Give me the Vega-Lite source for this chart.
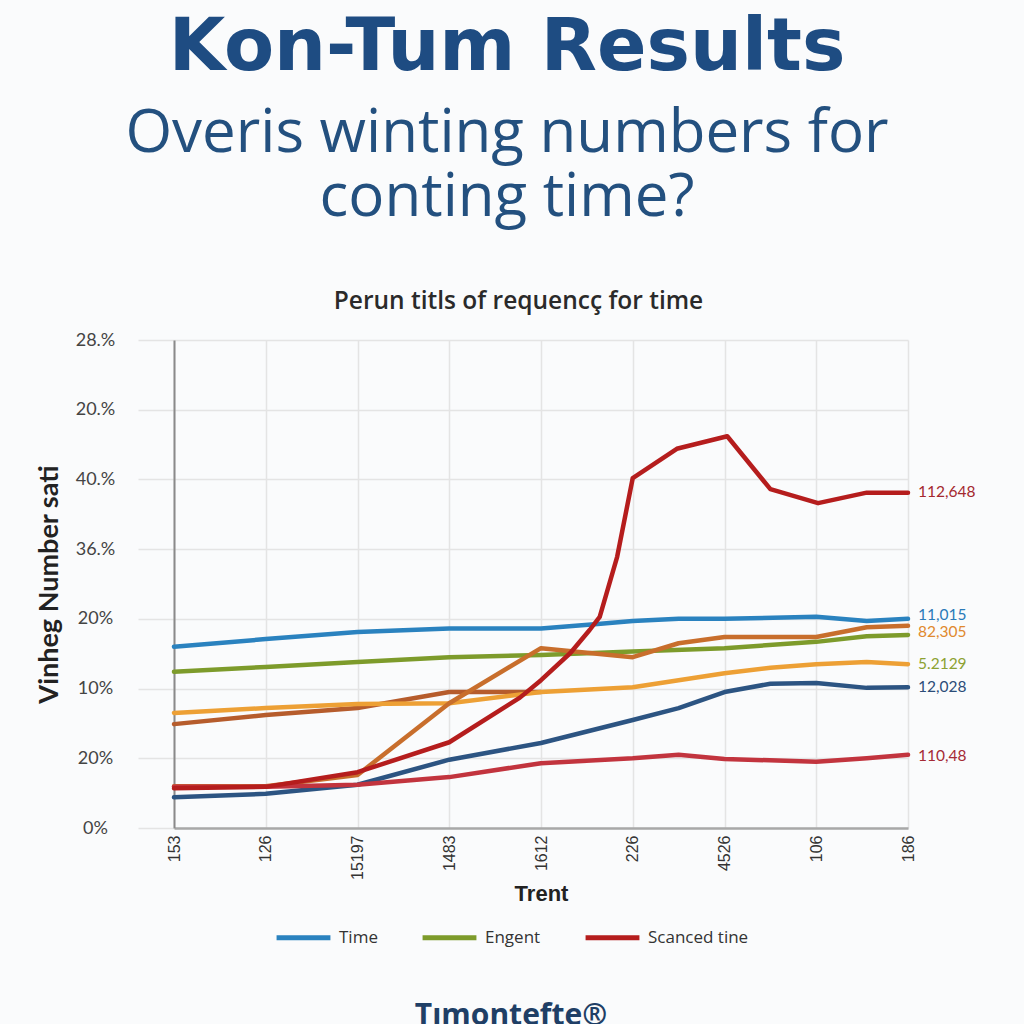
{
  "$schema": "https://vega.github.io/schema/vega-lite/v6.json",
  "width": 734,
  "height": 488,
  "autosize": {"type": "none"},
  "padding": {"left": 174, "top": 340, "right": 116, "bottom": 196},
  "background": "#fafbfc",
  "title": {
    "text": "Kon-Tum Results",
    "subtitle": ["Overis winting numbers for", "conting time?"],
    "font": "DejaVu Sans",
    "fontSize": 73,
    "fontWeight": "bold",
    "color": "#1e4c82",
    "subtitleFont": "Open Sans",
    "subtitleFontSize": 60,
    "subtitleColor": "#23507f",
    "subtitleLineHeight": 64,
    "subtitlePadding": 20,
    "anchor": "middle",
    "dx": -34,
    "offset": 60
  },
  "datasets": {
    "lines": [
      {"s": "Time", "x": 0, "y": 2.60}, {"s": "Time", "x": 1, "y": 2.71}, {"s": "Time", "x": 2, "y": 2.81}, {"s": "Time", "x": 3, "y": 2.86}, {"s": "Time", "x": 4, "y": 2.86}, {"s": "Time", "x": 4.65, "y": 2.93}, {"s": "Time", "x": 5, "y": 2.97}, {"s": "Time", "x": 5.5, "y": 3.00}, {"s": "Time", "x": 6, "y": 3.00}, {"s": "Time", "x": 7, "y": 3.03}, {"s": "Time", "x": 7.55, "y": 2.97}, {"s": "Time", "x": 8, "y": 3.00},
      {"s": "Engent", "x": 0, "y": 2.24}, {"s": "Engent", "x": 1, "y": 2.31}, {"s": "Engent", "x": 2, "y": 2.38}, {"s": "Engent", "x": 3, "y": 2.45}, {"s": "Engent", "x": 4, "y": 2.48}, {"s": "Engent", "x": 5, "y": 2.53}, {"s": "Engent", "x": 6, "y": 2.58}, {"s": "Engent", "x": 7, "y": 2.67}, {"s": "Engent", "x": 7.55, "y": 2.75}, {"s": "Engent", "x": 8, "y": 2.77},
      {"s": "Rust", "x": 0, "y": 1.49}, {"s": "Rust", "x": 1, "y": 1.62}, {"s": "Rust", "x": 2, "y": 1.72}, {"s": "Rust", "x": 3, "y": 1.95}, {"s": "Rust", "x": 3.7, "y": 1.95}, {"s": "Rust", "x": 4, "y": 1.95},
      {"s": "Amber", "x": 0, "y": 1.65}, {"s": "Amber", "x": 1, "y": 1.72}, {"s": "Amber", "x": 2, "y": 1.78}, {"s": "Amber", "x": 3, "y": 1.79}, {"s": "Amber", "x": 4, "y": 1.95}, {"s": "Amber", "x": 5, "y": 2.02}, {"s": "Amber", "x": 5.5, "y": 2.12}, {"s": "Amber", "x": 6, "y": 2.22}, {"s": "Amber", "x": 6.5, "y": 2.30}, {"s": "Amber", "x": 7, "y": 2.35}, {"s": "Amber", "x": 7.55, "y": 2.38}, {"s": "Amber", "x": 8, "y": 2.35},
      {"s": "Copper", "x": 0, "y": 0.60}, {"s": "Copper", "x": 1, "y": 0.60}, {"s": "Copper", "x": 2, "y": 0.76}, {"s": "Copper", "x": 3, "y": 1.79}, {"s": "Copper", "x": 4, "y": 2.58}, {"s": "Copper", "x": 5, "y": 2.45}, {"s": "Copper", "x": 5.5, "y": 2.65}, {"s": "Copper", "x": 6, "y": 2.74}, {"s": "Copper", "x": 7, "y": 2.74}, {"s": "Copper", "x": 7.55, "y": 2.88}, {"s": "Copper", "x": 8, "y": 2.90},
      {"s": "Navy", "x": 0, "y": 0.44}, {"s": "Navy", "x": 1, "y": 0.49}, {"s": "Navy", "x": 2, "y": 0.62}, {"s": "Navy", "x": 3, "y": 0.98}, {"s": "Navy", "x": 4, "y": 1.22}, {"s": "Navy", "x": 5, "y": 1.55}, {"s": "Navy", "x": 5.5, "y": 1.72}, {"s": "Navy", "x": 6, "y": 1.95}, {"s": "Navy", "x": 6.5, "y": 2.07}, {"s": "Navy", "x": 7, "y": 2.08}, {"s": "Navy", "x": 7.55, "y": 2.01}, {"s": "Navy", "x": 8, "y": 2.02},
      {"s": "Crimson", "x": 0, "y": 0.59}, {"s": "Crimson", "x": 1, "y": 0.59}, {"s": "Crimson", "x": 2, "y": 0.62}, {"s": "Crimson", "x": 3, "y": 0.73}, {"s": "Crimson", "x": 4, "y": 0.93}, {"s": "Crimson", "x": 5, "y": 1.00}, {"s": "Crimson", "x": 5.5, "y": 1.05}, {"s": "Crimson", "x": 6, "y": 0.99}, {"s": "Crimson", "x": 7, "y": 0.95}, {"s": "Crimson", "x": 7.55, "y": 1.00}, {"s": "Crimson", "x": 8, "y": 1.05},
      {"s": "Scanced tine", "x": 0, "y": 0.57}, {"s": "Scanced tine", "x": 1, "y": 0.59}, {"s": "Scanced tine", "x": 2, "y": 0.80}, {"s": "Scanced tine", "x": 3, "y": 1.23}, {"s": "Scanced tine", "x": 3.77, "y": 1.87}, {"s": "Scanced tine", "x": 4, "y": 2.12}, {"s": "Scanced tine", "x": 4.32, "y": 2.51}, {"s": "Scanced tine", "x": 4.53, "y": 2.84}, {"s": "Scanced tine", "x": 4.64, "y": 3.03}, {"s": "Scanced tine", "x": 4.83, "y": 3.89}, {"s": "Scanced tine", "x": 5, "y": 5.02}, {"s": "Scanced tine", "x": 5.48, "y": 5.44}, {"s": "Scanced tine", "x": 6.03, "y": 5.62}, {"s": "Scanced tine", "x": 6.5, "y": 4.86}, {"s": "Scanced tine", "x": 7.02, "y": 4.66}, {"s": "Scanced tine", "x": 7.55, "y": 4.81}, {"s": "Scanced tine", "x": 8, "y": 4.81}
    ],
    "labels": [
      {"x": 8, "y": 4.82, "t": "112,648", "k": "a"},
      {"x": 8, "y": 3.05, "t": "11,015", "k": "b"},
      {"x": 8, "y": 2.81, "t": "82,305", "k": "c"},
      {"x": 8, "y": 2.35, "t": "5.2129", "k": "d"},
      {"x": 8, "y": 2.02, "t": "12,028", "k": "e"},
      {"x": 8, "y": 1.03, "t": "110,48", "k": "f"}
    ]
  },
  "layer": [
    {
      "data": {"name": "lines"},
      "mark": {"type": "line", "strokeWidth": 4.5, "strokeCap": "round", "strokeJoin": "round"},
      "encoding": {
        "x": {
          "field": "x", "type": "quantitative",
          "scale": {"domain": [0, 8], "nice": false, "zero": false},
          "axis": {
            "orient": "bottom",
            "values": [0, 1, 2, 3, 4, 5, 6, 7, 8],
            "labelExpr": "['153','126','15197','1483','1612','226','4526','106','186'][datum.value]",
            "labelAngle": -90,
            "labelFont": "Liberation Sans",
            "labelFontSize": 16,
            "labelColor": "#333333",
            "labelPadding": 7,
            "ticks": false,
            "domainColor": "#a8a8a8",
            "domainWidth": 2.5,
            "grid": true,
            "gridColor": "#e4e4e4",
            "gridWidth": 1.5,
            "title": "Trent",
            "titleFont": "Liberation Sans",
            "titleFontSize": 22,
            "titleFontWeight": "bold",
            "titleColor": "#222222",
            "titlePadding": 4
          }
        },
        "y": {
          "field": "y", "type": "quantitative",
          "scale": {"domain": [0, 7], "nice": false, "zero": false},
          "axis": {
            "values": [0, 1, 2, 3, 4, 5, 6, 7],
            "labelExpr": "['0%','20%','10%','20%','36.%','40.%','20.%','28.%'][datum.value]",
            "labelAlign": "center",
            "labelFont": "Lato",
            "labelFontSize": 18,
            "labelColor": "#444444",
            "labelPadding": 43,
            "tickSize": 36,
            "tickColor": "#e4e4e4",
            "tickWidth": 1.5,
            "domainColor": "#8a8a8a",
            "domainWidth": 2,
            "grid": true,
            "gridColor": "#e4e4e4",
            "gridWidth": 1.5,
            "title": "Vinheg Number sati",
            "titleFont": "Lato",
            "titleFontSize": 27,
            "titleFontWeight": "bold",
            "titleColor": "#222222",
            "titlePadding": 12
          }
        },
        "color": {
          "field": "s", "type": "nominal",
          "scale": {
            "domain": ["Time", "Engent", "Scanced tine", "Rust", "Amber", "Copper", "Navy", "Crimson"],
            "range": ["#2a82bf", "#7d9b2b", "#b51d1d", "#b65c2c", "#eda035", "#c86e2c", "#2c5482", "#c2343e"]
          },
          "legend": {
            "values": ["Time", "Engent", "Scanced tine"],
            "orient": "none",
            "legendX": 100,
            "legendY": 568,
            "direction": "horizontal",
            "symbolType": "stroke",
            "symbolStrokeWidth": 5,
            "symbolSize": 2900,
            "labelFont": "Open Sans",
            "labelFontSize": 17,
            "labelColor": "#333333",
            "labelOffset": 6,
            "columnPadding": 34,
            "title": "Tımontefte®",
            "titleOrient": "bottom",
            "titleAnchor": "middle",
            "titleLimit": 600,
            "titleFont": "Open Sans",
            "titleFontSize": 30,
            "titleFontWeight": "bold",
            "titleColor": "#1f3f66",
            "titlePadding": 53
          }
        },
        "order": {"field": "x", "type": "quantitative"}
      }
    },
    {
      "data": {"name": "labels"},
      "mark": {"type": "text", "align": "left", "baseline": "middle", "dx": 10, "font": "Lato", "fontSize": 15.5},
      "encoding": {
        "x": {
          "field": "x", "type": "quantitative",
          "axis": {
            "orient": "top",
            "labels": false,
            "ticks": false,
            "domain": false,
            "grid": false,
            "title": "Perun titls of requencç for time",
            "titleFont": "Open Sans",
            "titleFontSize": 24.5,
            "titleFontWeight": 600,
            "titleColor": "#2a2a2a",
            "titlePadding": 27,
            "titleX": 344
          }
        },
        "y": {"field": "y", "type": "quantitative"},
        "text": {"field": "t", "type": "nominal"},
        "color": {
          "field": "k", "type": "nominal",
          "scale": {"domain": ["a", "b", "c", "d", "e", "f"], "range": ["#a4282e", "#2a7ab8", "#e0892e", "#8ca232", "#2b4c78", "#a52a35"]},
          "legend": null
        }
      }
    }
  ],
  "resolve": {"scale": {"color": "independent"}, "axis": {"x": "independent"}},
  "config": {"view": {"stroke": null}, "font": "Lato"}
}
